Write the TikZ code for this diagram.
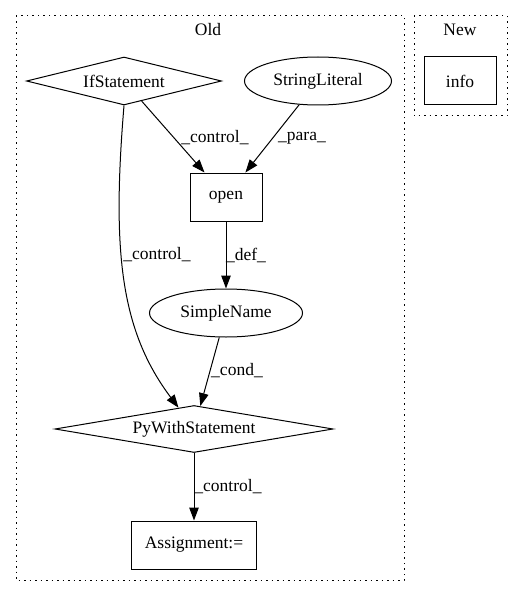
\documentclass[tikz,border=0pt]{standalone}
\usepackage{fontspec}
\setmainfont{Liberation Serif}
\usetikzlibrary{shapes.geometric,arrows.meta}

\begin{document}
\begin{tikzpicture}[x=1pt, y=-1pt,
  every node/.style={font=\fontsize{17.5pt}{21pt}\selectfont, inner sep=0pt},
  cluster/.style={line width=1pt, dash pattern=on 1.5pt off 4pt},
  rectnode/.style={draw, line width=1pt, rectangle, minimum height=48pt},
  ellnode/.style={draw, line width=1pt, ellipse, minimum height=48pt},
  dianode/.style={draw, line width=1pt, diamond, minimum height=48pt},
  edge/.style={line width=1pt, -{Triangle[length=13pt, width=9.5pt]}}]

\useasboundingbox (0,0) rectangle (527,596);

% clusters
\draw [cluster] (16,16) rectangle (404,580);
\draw [cluster] (414,16) rectangle (507,116);
\node (oldlbl) at (208, 30) {Old};
\node (newlbl) at (460, 30) {New};

\node [rectnode, minimum width=72pt] (info) at (460, 81) {info};

\node [dianode, aspect=4, minimum width=195pt] (ifst) at (124, 81) {IfStatement};
\node [ellnode, minimum width=147pt] (strlit) at (318, 81) {StringLiteral};
\node [rectnode, minimum width=72pt] (open) at (226, 197) {open};
\node [ellnode, minimum width=153pt] (sname) at (226, 313) {SimpleName};
\node [dianode, aspect=6, minimum width=278pt, minimum height=47pt] (pywith) at (194, 429) {PyWithStatement};
\node [rectnode, minimum width=125pt] (assign) at (194, 545) {Assignment:=};

\draw [edge] (ifst) -- (open);
\node (lctrl1) at (215, 138) {\_control\_};
\draw [edge] (strlit) -- (open);
\node (lpara) at (302, 138) {\_para\_};
\draw [edge] (open) -- (sname);
\node (ldef) at (246, 255) {\_def\_};
\draw [edge] (ifst.south) .. controls (112,250) and (120,330) .. (pywith.126);
\node (lctrl2) at (157, 255) {\_control\_};
\draw [edge] (sname) -- (pywith);
\node (lcond) at (237, 371) {\_cond\_};
\draw [edge] (pywith) -- (assign);
\node (lctrl3) at (228, 487) {\_control\_};

\end{tikzpicture}
\end{document}
